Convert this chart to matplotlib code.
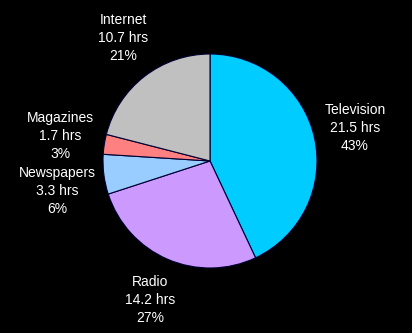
import matplotlib.pyplot as plt

plt.rcParams['font.family'] = ['Liberation Sans', 'DejaVu Sans']

# media use per week
media = ['Television', 'Radio', 'Newspapers', 'Magazines', 'Internet']
hours = [21.5, 14.2, 3.3, 1.7, 10.7]
pct = [43, 27, 6, 3, 21]
colors = ['#00CCFF', '#CC99FF', '#99CCFF', '#FF8080', '#C0C0C0']

# label block centres (pixel coords, origin bottom-left)
label_pos = [(355, 205), (150, 33), (57, 142), (60, 197), (123, 295)]

fig = plt.figure(figsize=(4.12, 3.33), dpi=100, facecolor='black')
ax = fig.add_axes([0, 0, 1, 1])
ax.set_facecolor('black')

ax.pie(pct, colors=colors, startangle=90, counterclock=False,
       center=(210, 172), radius=107,
       wedgeprops=dict(edgecolor='#000033', linewidth=0.8))

for name, h, p, (x, y) in zip(media, hours, pct, label_pos):
    ax.text(x, y, '%s\n%.1f hrs\n%d%%' % (name, h, p), color='white',
            fontsize=10, ha='center', va='center', multialignment='center',
            linespacing=1.4)

ax.set_xlim(0, 412)
ax.set_ylim(0, 333)
ax.set_aspect('equal')
ax.axis('off')

fig.savefig('out.png', dpi=100, facecolor='black')
